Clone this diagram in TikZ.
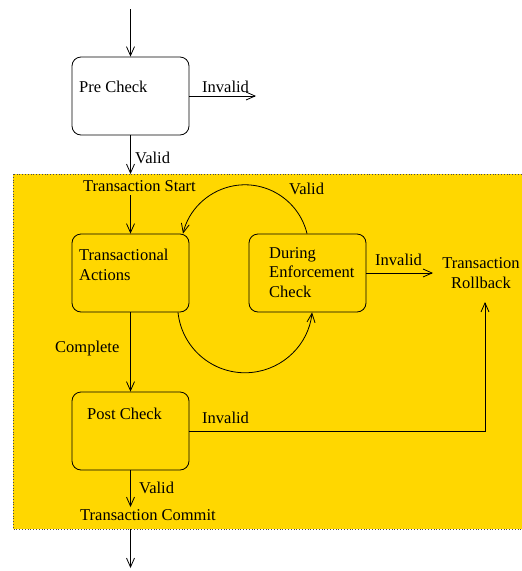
\documentclass[tikz,border=0pt]{standalone}
\usepackage{fontspec}
\setmainfont{Liberation Serif}
\usetikzlibrary{arrows.meta}
\definecolor{regionfill}{RGB}{255,215,0}
\begin{document}
\begin{tikzpicture}[x=1pt,y=1pt,
  every node/.style={font=\fontsize{16.5}{19.5}\selectfont},
  flow/.style={line width=0.8pt,-{Straight Barb[length=9pt,width=8pt,line width=0.8pt]}},
  stagebox/.style={draw,line width=0.8pt,rounded corners=9pt,minimum width=117pt,minimum height=78pt,inner sep=0pt},
  lbl/.style={anchor=base west,inner sep=0pt},
]
\useasboundingbox (0,0) rectangle (522,-571);
% shaded transaction region
\begin{scope}
  \clip (0,0) rectangle (522,-571);
  \fill[regionfill] (13,-174) rectangle (524,-529);
  \draw[dotted,line width=0.8pt,black!70] (13,-174) rectangle (524,-529);
\end{scope}

% stages
\node[stagebox] (pre)  at (130.5,-96)  {};
\node[stagebox] (act)  at (130.5,-273) {};
\node[stagebox] (dur)  at (307.5,-273) {};
\node[stagebox] (post) at (130.5,-431) {};

% stage titles (multi-line nodes sit on the baseline of their last line)
\node[lbl] (preT)  at (79,-92)  {Pre Check};
\node[lbl,align=left] (actT) at (79,-280) {Transactional\\Actions};
\node[lbl,align=left] (durT) at (269,-297) {During\\Enforcement\\Check};
\node[lbl] (postT) at (87,-419) {Post Check};

% states and edge labels
\node[lbl] (tstart)  at (83,-191)  {Transaction Start};
\node[lbl] (tcommit) at (80,-520)  {Transaction Commit};
\node[anchor=base,inner sep=0pt,align=center] (rb) at (481,-288) {Transaction\\Rollback};
\node[lbl] (l1) at (202,-92)  {Invalid};
\node[lbl] (l2) at (135,-163) {Valid};
\node[lbl] (l3) at (289,-194) {Valid};
\node[lbl] (l4) at (375,-265) {Invalid};
\node[lbl] (l5) at (55,-352)  {Complete};
\node[lbl] (l6) at (202,-423) {Invalid};
\node[lbl] (l7) at (139,-493) {Valid};

% free connector ends
\coordinate (entry)   at (130.5,-9);
\coordinate (preOut)  at (256,-96);
\coordinate (regTop)  at (130.5,-174);
\coordinate (regBot)  at (130.5,-529);
\coordinate (exit)    at (130.5,-568);
\coordinate (rbLeft)  at (433,-273);
\coordinate (rbBelow) at (485,-302);
\coordinate (commitIn) at (130.5,-507);

% connectors
\draw[flow] (entry) -- (pre.north);
\draw[flow] (pre.east) -- (preOut);
\draw[flow] (pre.south) -- (regTop);
\draw[flow] (tstart.south -| act.north) ++(0,-4) -- (act.north);
\draw[flow] (act.south) -- (post.north);
\draw[flow] (dur.east) -- (rbLeft);
\draw[flow] (post.east) -| (rbBelow);
\draw[flow] (post.south) -- (commitIn);
\draw[flow] (regBot) -- (exit);

% enforcement loop
\draw[flow] ([xshift=-0.5pt]dur.north) arc[start angle=13.6,end angle=166.4,radius=63.8];
\draw[flow] ([xshift=47.5pt]act.south) arc[start angle=186,end angle=354,radius=67.4];
\end{tikzpicture}
\end{document}
